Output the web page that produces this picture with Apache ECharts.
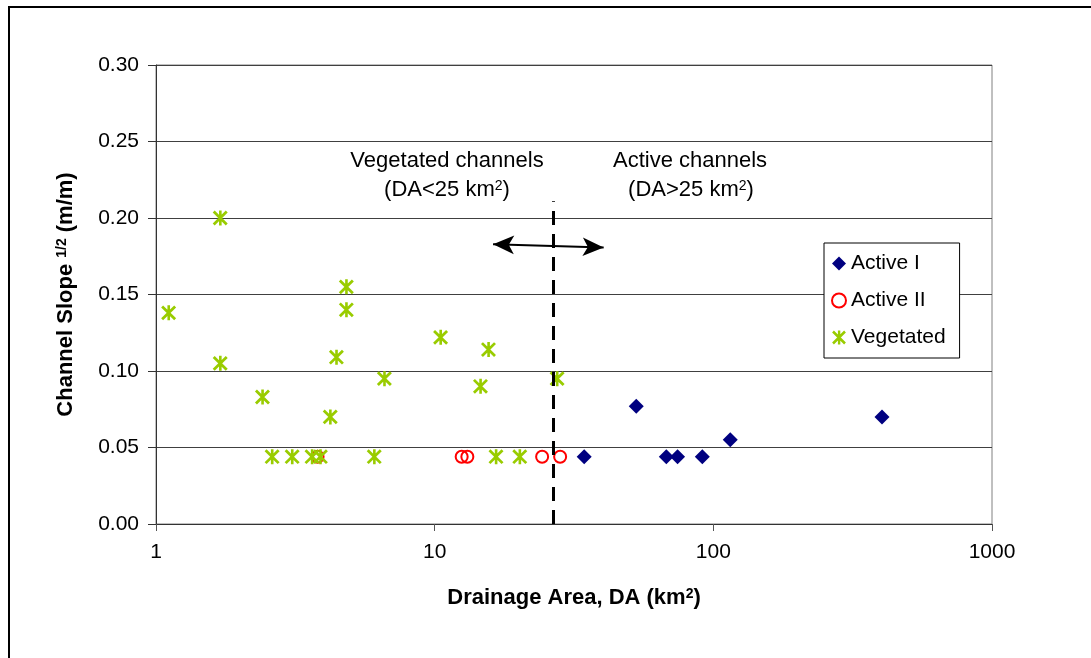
<!DOCTYPE html>
<html><head><meta charset="utf-8">
<script src="https://cdn.jsdelivr.net/npm/echarts@6/dist/echarts.min.js"></script>
<style>html,body{margin:0;padding:0;background:#fff}#c{width:1091px;height:658px}</style>
</head><body><div id="c"></div>
<script>
// ---- data ----
const seriesNames = ['Active I', 'Active II', 'Vegetated'];
const activeIDA    = [34.4, 52.9, 67.8, 74.4, 91.3, 115, 403];
const activeISlope = [0.044, 0.077, 0.044, 0.044, 0.044, 0.055, 0.070];
const activeIIDA    = [3.8, 12.5, 13.1, 24.3, 28.2];
const activeIISlope = [0.044, 0.044, 0.044, 0.044, 0.044];
const vegDA    = [1.11, 1.70, 1.70, 2.41, 2.61, 3.08, 3.63, 3.89, 4.22, 4.44, 4.82, 4.82, 6.07, 6.60, 10.5, 14.6, 15.6, 16.6, 20.2, 27.5];
const vegSlope = [0.138, 0.200, 0.105, 0.083, 0.044, 0.044, 0.044, 0.044, 0.070, 0.109, 0.155, 0.140, 0.044, 0.095, 0.122, 0.090, 0.114, 0.044, 0.044, 0.095];
const xTicks = [1, 10, 100, 1000];
const yTicks = [0, 0.05, 0.10, 0.15, 0.20, 0.25, 0.30];
const divideDA = 26.7;          // dashed divider position
const dividerTop = 0.211;
const arrowLeft = [16.2, 0.1828];
const arrowRight = [40.4, 0.1808];

const FONT = '"Liberation Sans", Arial, sans-serif';
const zip = (a, b) => a.map((v, i) => [v, b[i]]);
const starPath = 'path://M5.9,0L8.3,0L8.3,14L5.9,14Z M1.9,0.1L13.9,12.1L12.1,13.9L0.1,1.9Z M13.9,1.9L1.9,13.9L0.1,12.1L12.1,0.1Z';

const chart = echarts.init(document.getElementById('c'), null, {renderer: 'canvas'});
chart.setOption({
  animation: false,
  backgroundColor: '#fff',
  textStyle: {fontFamily: FONT},
  grid: {left: 156, right: 99, top: 65, bottom: 134, show: true, borderColor: '#808080', borderWidth: 1, backgroundColor: 'transparent'},
  xAxis: {
    type: 'log', logBase: 10, min: xTicks[0], max: xTicks[xTicks.length - 1],
    name: 'Drainage Area, DA (km{sup|2})', nameLocation: 'middle', nameGap: 63,
    nameTextStyle: {fontSize: 22, fontWeight: 'bold', color: '#000', fontFamily: FONT,
      rich: {sup: {fontSize: 14, fontWeight: 'bold', verticalAlign: 'top', color: '#000', fontFamily: FONT}}},
    axisLine: {show: true, lineStyle: {color: '#333', width: 1}},
    axisTick: {show: true, inside: false, length: 7, lineStyle: {color: '#555'}},
    minorTick: {show: false},
    splitLine: {show: false},
    axisLabel: {fontSize: 21, color: '#000', margin: 18, fontFamily: FONT, formatter: v => String(Math.round(v))}
  },
  yAxis: {
    type: 'value', min: 0, max: 0.3, interval: 0.05,
    name: 'Channel Slope {sup|1/2} (m/m)', nameLocation: 'middle', nameGap: 79, nameRotate: 90,
    nameTextStyle: {fontSize: 22, fontWeight: 'bold', color: '#000', fontFamily: FONT,
      rich: {sup: {fontSize: 14, fontWeight: 'bold', verticalAlign: 'top', color: '#000', fontFamily: FONT}}},
    axisLine: {show: true, lineStyle: {color: '#333', width: 1}},
    axisTick: {show: true, inside: false, length: 8, lineStyle: {color: '#333'}},
    splitLine: {show: true, lineStyle: {color: '#404040', width: 1}},
    axisLabel: {fontSize: 21, color: '#000', margin: 17, fontFamily: FONT, formatter: v => v.toFixed(2)}
  },
  legend: {
    orient: 'vertical', left: 824, top: 243,
    padding: [10, 14, 10, 7], itemGap: 16, itemWidth: 14, itemHeight: 14,
    borderColor: '#000', borderWidth: 1, backgroundColor: '#fff',
    textStyle: {fontSize: 21, color: '#000', lineHeight: 21, fontFamily: FONT},
    data: [
      {name: seriesNames[0], icon: 'diamond', itemStyle: {color: '#000080'}},
      {name: seriesNames[1], icon: 'circle', itemStyle: {color: '#fff', borderColor: '#ff0000', borderWidth: 2}},
      {name: seriesNames[2], icon: starPath, itemStyle: {color: '#99cc00'}}
    ]
  },
  graphic: [
    {type: 'rect', z: -10, shape: {x: 9, y: 7, width: 1300, height: 1000}, style: {fill: 'none', stroke: '#000', lineWidth: 2}},
    {type: 'text', z: 100, x: 447, y: 161, style: {text: 'Vegetated channels', font: '22px ' + FONT, fill: '#000', align: 'center', verticalAlign: 'middle'}},
    {type: 'text', z: 100, x: 447, y: 190, style: {text: '(DA<25 km{sup|2})', font: '22px ' + FONT, fill: '#000', align: 'center', verticalAlign: 'middle',
      rich: {sup: {fontSize: 14, verticalAlign: 'top', fontFamily: FONT}}}},
    {type: 'text', z: 100, x: 690, y: 161, style: {text: 'Active channels', font: '22px ' + FONT, fill: '#000', align: 'center', verticalAlign: 'middle'}},
    {type: 'text', z: 100, x: 691, y: 190, style: {text: '(DA>25 km{sup|2})', font: '22px ' + FONT, fill: '#000', align: 'center', verticalAlign: 'middle',
      rich: {sup: {fontSize: 14, verticalAlign: 'top', fontFamily: FONT}}}}
  ],
  series: [
    {
      name: seriesNames[0], type: 'scatter', data: zip(activeIDA, activeISlope),
      symbol: 'diamond', symbolSize: 15, itemStyle: {color: '#000080', opacity: 1},
      markLine: {
        silent: true, animation: false, symbol: ['arrow', 'arrow'], symbolSize: [14, 21],
        label: {show: false}, lineStyle: {type: 'solid', width: 2, color: '#000'},
        emphasis: {disabled: true},
        data: [[{coord: arrowLeft}, {coord: arrowRight}]]
      }
    },
    {
      name: seriesNames[1], type: 'scatter', data: zip(activeIIDA, activeIISlope),
      symbol: 'circle', symbolSize: 12, itemStyle: {color: 'rgba(255,255,255,0)', borderColor: '#ff0000', borderWidth: 2, opacity: 1}
    },
    {
      name: seriesNames[2], type: 'scatter', data: zip(vegDA, vegSlope),
      symbol: starPath, symbolSize: 15, itemStyle: {color: '#99cc00', opacity: 1},
      markLine: {
        silent: true, animation: false, symbol: ['none', 'none'],
        label: {show: false}, lineStyle: {type: [14, 9], width: 3, color: '#000'},
        emphasis: {disabled: true},
        data: [[{coord: [divideDA, 0]}, {coord: [divideDA, dividerTop]}]]
      }
    }
  ]
});
</script></body></html>
